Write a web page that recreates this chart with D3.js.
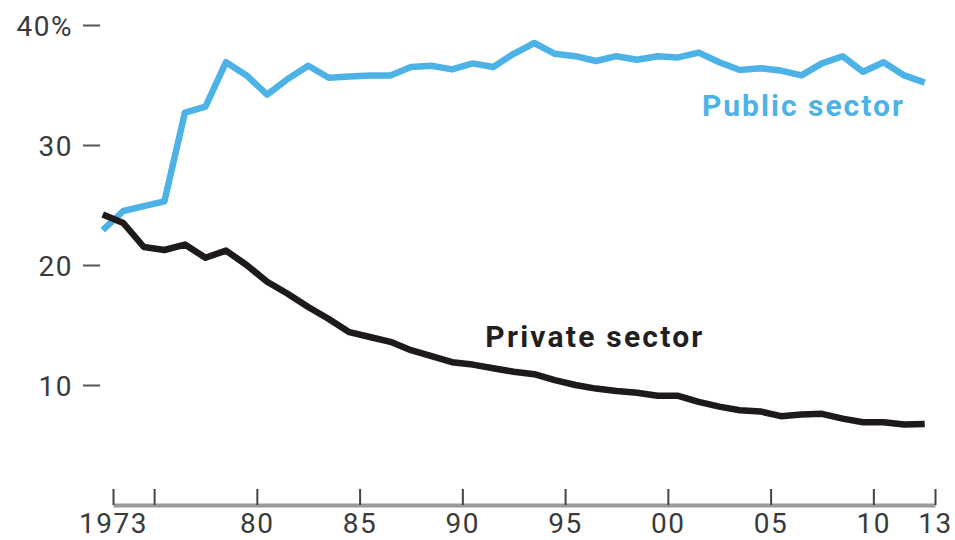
<!DOCTYPE html>
<html>
<head>
<meta charset="utf-8">
<script src="https://cdn.jsdelivr.net/npm/d3@7"></script>
<style>
  body { margin: 0; background: #fff; }
  svg { display: block; }
  .tick text { font-family: Roboto, "Liberation Sans", sans-serif; fill: #3a3a3a; letter-spacing: 1.5px; }
  .serie_label { font-family: Roboto, "Liberation Sans", sans-serif; font-weight: 700; }
</style>
</head>
<body>
<div id="chart"></div>
<script>
// share of workers in unions, 1973-2013
const years = d3.range(1973, 2014);
const publicSector = [22.9, 24.5, 24.9, 25.3, 32.7, 33.2, 36.9, 35.8, 34.2, 35.5,
                      36.6, 35.6, 35.7, 35.8, 35.8, 36.5, 36.6, 36.3, 36.8, 36.5,
                      37.6, 38.5, 37.6, 37.4, 37.0, 37.4, 37.1, 37.4, 37.3, 37.7,
                      36.9, 36.25, 36.4, 36.2, 35.8, 36.8, 37.4, 36.1, 36.9, 35.8, 35.2];
const privateSector = [24.2, 23.5, 21.5, 21.25, 21.7, 20.6, 21.2, 20.0, 18.6, 17.6,
                       16.5, 15.5, 14.4, 14.0, 13.6, 12.9, 12.4, 11.9, 11.7, 11.4,
                       11.1, 10.9, 10.4, 10.0, 9.7, 9.5, 9.35, 9.1, 9.1, 8.6,
                       8.2, 7.9, 7.8, 7.4, 7.55, 7.6, 7.2, 6.9, 6.9, 6.7, 6.75];
const xTicks = [1973, 1975, 1980, 1985, 1990, 1995, 2000, 2005, 2010, 2013];
const xTickLabels = ["1973", "", "80", "85", "90", "95", "00", "05", "10", "13"];
const yTicks = [10, 20, 30, 40];
const yTickLabels = ["10", "20", "30", "40%"];

const width = 955, height = 540;

const svg = d3.select("#chart").append("svg")
    .attr("width", width)
    .attr("height", height);

const xScale = d3.scaleLinear().domain([1973, 2013]).range([113, 935]);
const yScale = d3.scaleLinear().domain([0, 40]).range([505, 25]);

const xAxis = d3.axisBottom(xScale)
    .tickValues(xTicks)
    .tickFormat((d, i) => xTickLabels[i])
    .tickSizeInner(-16)
    .tickSizeOuter(0)
    .tickPadding(0);

const gx = svg.append("g")
    .attr("transform", "translate(0,505)")
    .call(xAxis);
gx.select(".domain").attr("stroke", "#9a9a9a").attr("stroke-width", 4);
gx.selectAll(".tick line").attr("stroke", "#444").attr("stroke-width", 2);
gx.selectAll(".tick text")
    .attr("y", 28)
    .attr("dy", 0)
    .style("font-size", "28px");

const yAxis = d3.axisLeft(yScale)
    .tickValues(yTicks)
    .tickFormat((d, i) => yTickLabels[i])
    .tickSize(17)
    .tickPadding(10);

const gy = svg.append("g")
    .attr("transform", "translate(100,0)")
    .call(yAxis);
gy.select(".domain").remove();
gy.selectAll(".tick line").attr("stroke", "#555").attr("stroke-width", 2);
gy.selectAll(".tick text")
    .attr("dy", "0.38em")
    .style("font-size", "28px");

// points sit half a year before each tick
const line = d3.line()
    .x(d => xScale(d.year - 0.5))
    .y(d => yScale(d.value));

const slices = [
    { id: "Public sector", color: "#4db3e6", values: years.map((y, i) => ({ year: y, value: publicSector[i] })) },
    { id: "Private sector", color: "#1e1a1a", values: years.map((y, i) => ({ year: y, value: privateSector[i] })) }
];

svg.selectAll(".serie")
    .data(slices)
    .enter()
    .append("path")
    .attr("class", "serie")
    .attr("fill", "none")
    .attr("stroke", d => d.color)
    .attr("stroke-width", 6.5)
    .attr("stroke-linejoin", "round")
    .attr("d", d => line(d.values));

// labels placed by data position
const labelSpots = [
    { id: "Public sector", year: 2006.55, value: 32.4, len: 201, color: "#4db3e6" },
    { id: "Private sector", year: 1996.4, value: 13.2, len: 217, color: "#231f20" }
];

svg.selectAll(".serie_label")
    .data(labelSpots)
    .enter()
    .append("text")
    .attr("class", "serie_label")
    .attr("x", d => xScale(d.year))
    .attr("y", d => yScale(d.value))
    .attr("text-anchor", "middle")
    .attr("fill", d => d.color)
    .attr("textLength", d => d.len)
    .attr("lengthAdjust", "spacing")
    .style("font-size", "30px")
    .text(d => d.id);
</script>
</body>
</html>
